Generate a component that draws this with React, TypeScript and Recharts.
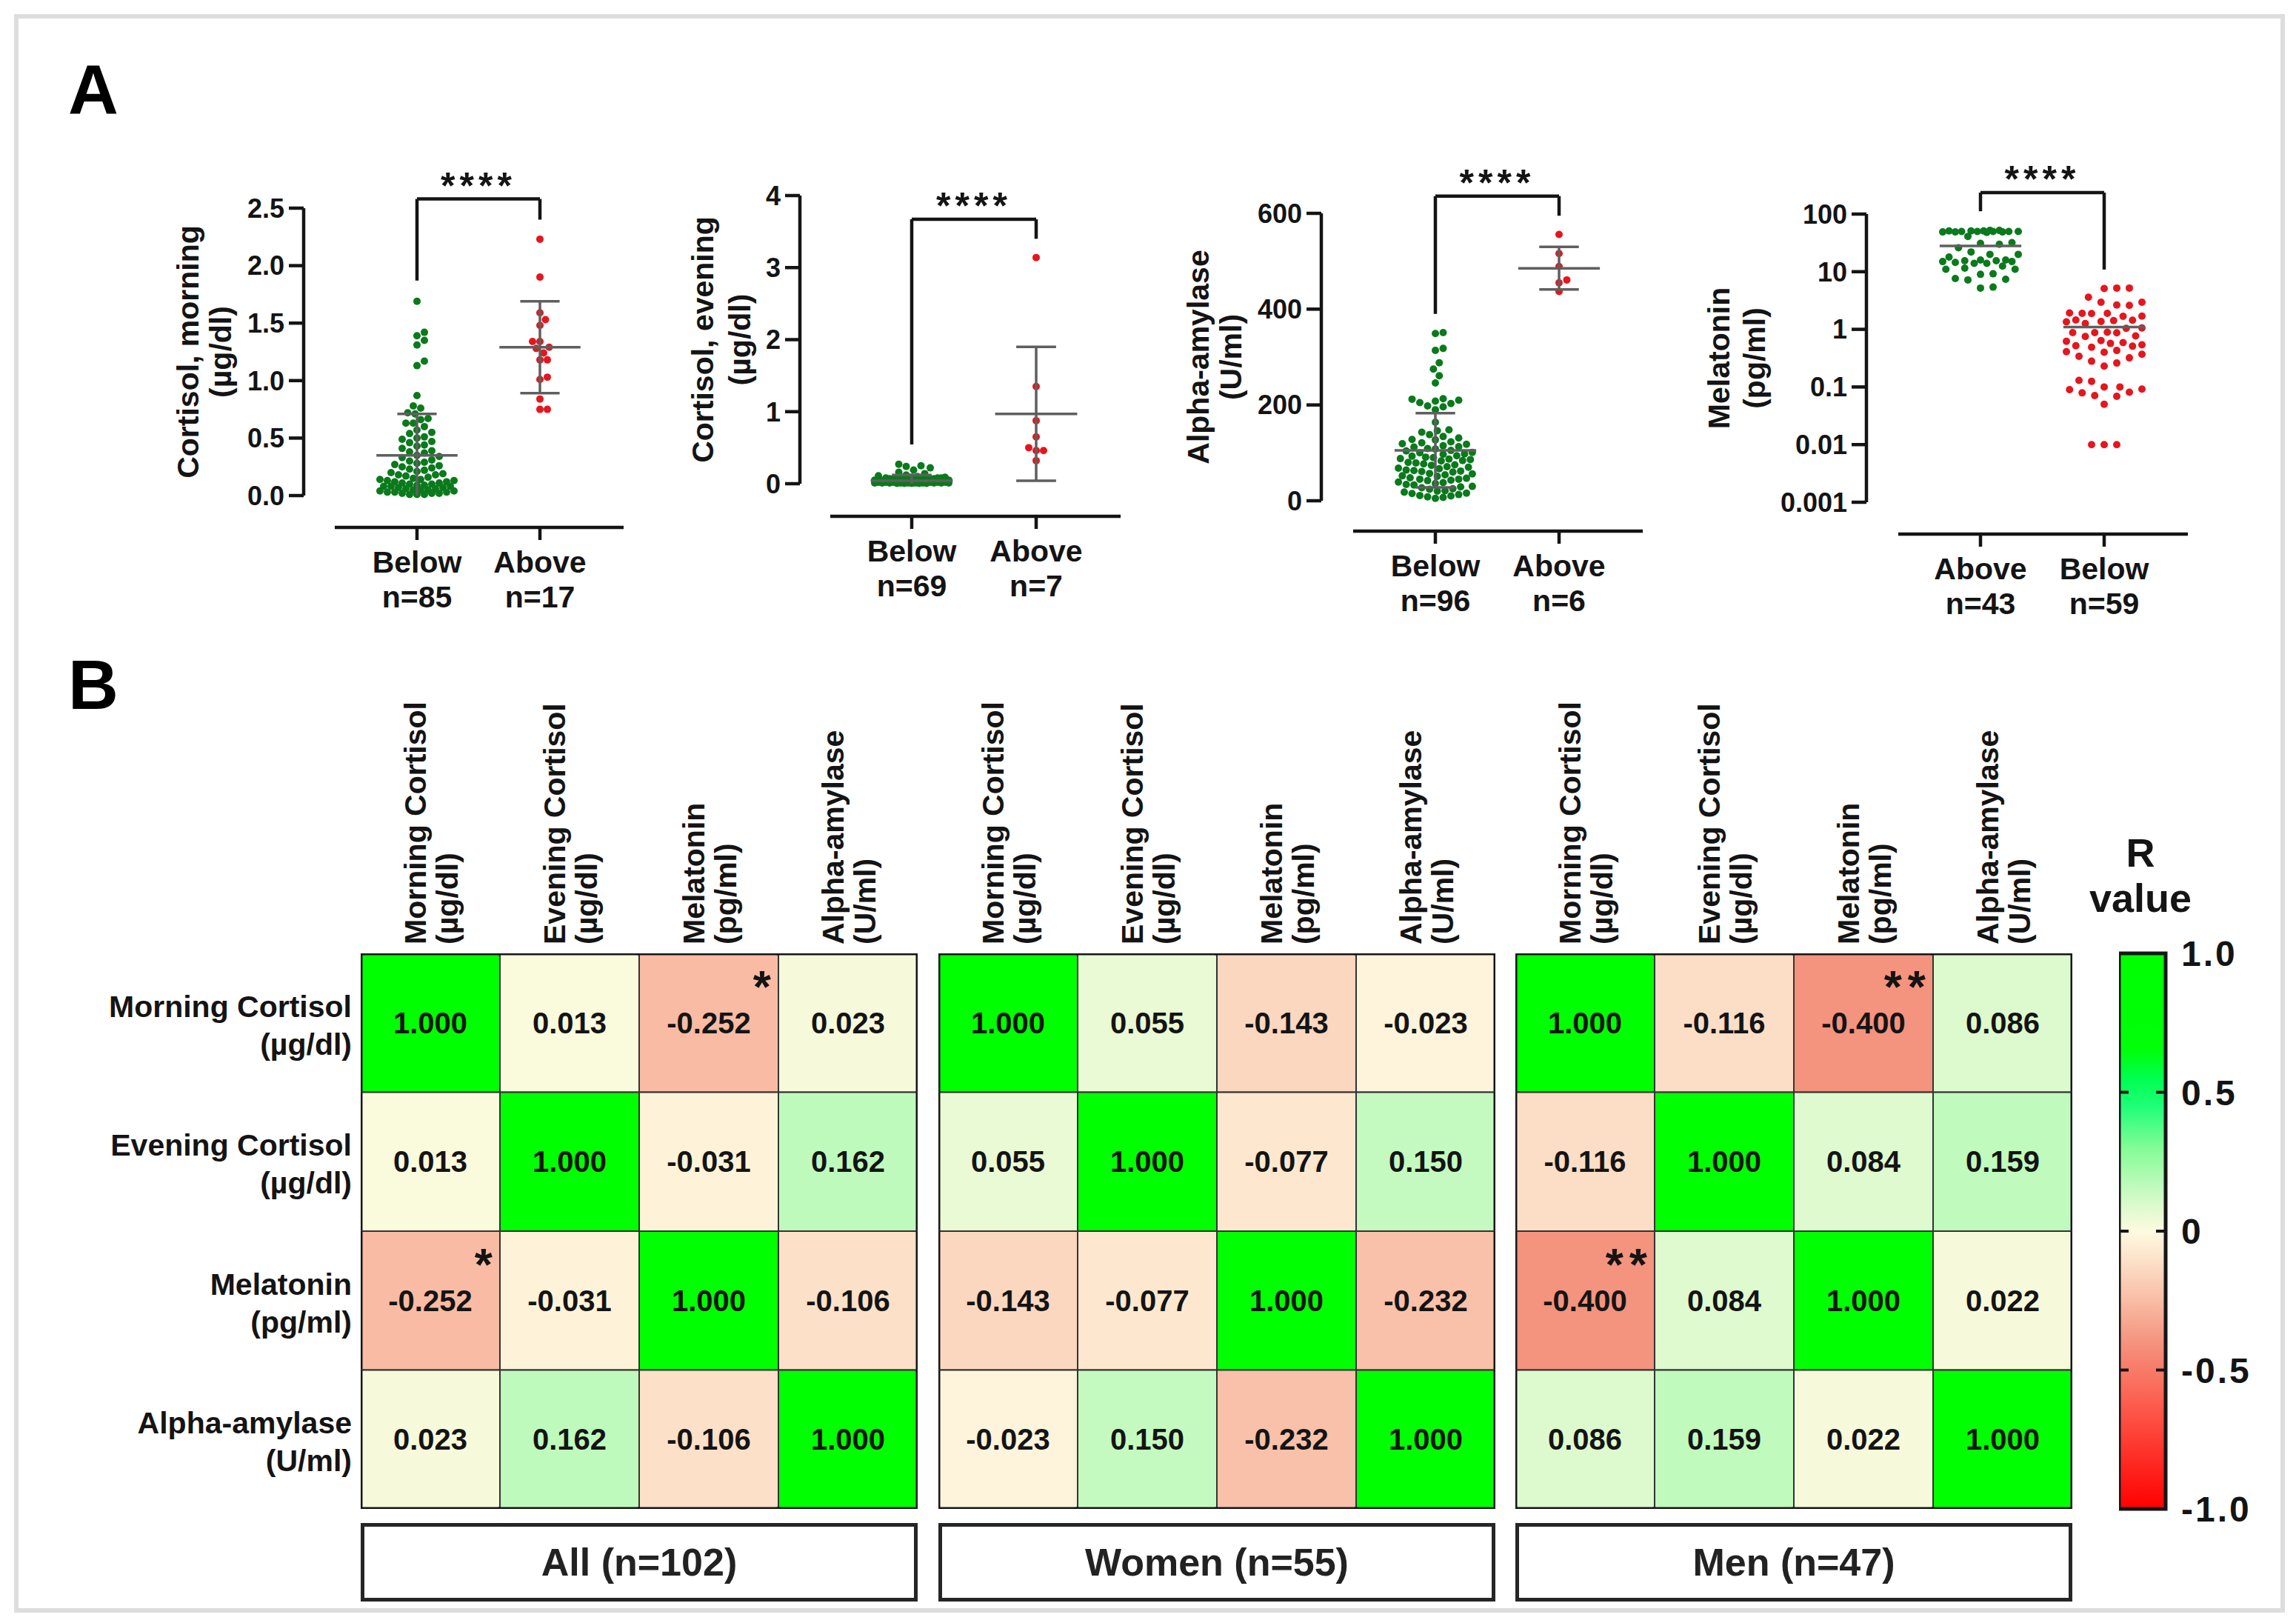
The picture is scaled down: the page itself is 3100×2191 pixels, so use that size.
import React from 'react';
import { ScatterChart, Scatter, XAxis, YAxis, ReferenceLine, BarChart, Bar } from 'recharts';

const FONT = 'Arial, "Liberation Sans", Helvetica, sans-serif';
const INK = '#141414';
const GROUP_COLORS = ['#0a7a1c', '#e5161d'];
const BAR_GREY = '#5f5f5f';

// ---------- Panel A: hormone levels
const morningGroups = ['Below', 'Above'];
const morningN = [85, 17];
const morningBelow = [
  1.69, 1.42, 1.39, 1.35, 1.31, 1.17, 1.13, 0.87, 0.78, 0.76,
  0.72, 0.71, 0.67, 0.66, 0.63, 0.63, 0.6,
  0.57, 0.55, 0.54, 0.51, 0.5, 0.49, 0.47, 0.46,
  0.44, 0.43, 0.41, 0.39, 0.38, 0.37, 0.35, 0.34, 0.33, 0.31, 0.3,
  0.29, 0.28, 0.27, 0.26, 0.25, 0.24, 0.23, 0.22, 0.21, 0.2, 0.19, 0.18, 0.18, 0.17, 0.16, 0.15,
  0.14, 0.14, 0.13, 0.13, 0.12, 0.12, 0.11, 0.11, 0.1, 0.1, 0.09, 0.09, 0.08, 0.08, 0.08,
  0.07, 0.07, 0.06, 0.06, 0.05, 0.05, 0.05, 0.04, 0.04, 0.03, 0.03, 0.03, 0.02, 0.02, 0.02,
  0.01, 0.01, 0.01,
];
const morningAbove = [2.23, 1.9, 1.59, 1.53, 1.48, 1.34, 1.34, 1.29, 1.28, 1.24, 1.18, 1.18, 1.03, 1.01, 0.84, 0.75, 0.75];
const morningMean = [0.35, 1.29];
const morningLo = [null, 0.89];
const morningHi = [0.71, 1.69];
const morningTicks = [0, 0.5, 1, 1.5, 2, 2.5];
const morningBracket = [2.58, 1.87, 2.4];

const eveningGroups = ['Below', 'Above'];
const eveningN = [69, 7];
const eveningBelow = [
  0.27, 0.25, 0.24, 0.22, 0.19, 0.16, 0.14, 0.12, 0.11, 0.1,
  0.09, 0.09, 0.08, 0.08, 0.08, 0.07, 0.07, 0.07, 0.07, 0.06, 0.06, 0.06, 0.06, 0.06,
  0.05, 0.05, 0.05, 0.05, 0.05, 0.05, 0.04, 0.04, 0.04, 0.04, 0.04, 0.04, 0.04,
  0.03, 0.03, 0.03, 0.03, 0.03, 0.03, 0.03, 0.03, 0.02, 0.02, 0.02, 0.02, 0.02, 0.02, 0.02, 0.02, 0.02,
  0.01, 0.01, 0.01, 0.01, 0.01, 0.01, 0.01, 0.01, 0.01, 0.01, 0.005, 0.005, 0.005, 0.005, 0.005,
];
const eveningAbove = [3.14, 1.35, 0.875, 0.65, 0.5, 0.46, 0.46, 0.32];
const eveningMean = [0.04, 0.97];
const eveningLo = [null, 0.04];
const eveningHi = [0.12, 1.9];
const eveningTicks = [0, 1, 2, 3, 4];
const eveningBracket = [3.67, 0.545, 3.4];

const amylaseGroups = ['Below', 'Above'];
const amylaseN = [96, 6];
const amylaseBelow = [
  351, 349, 318, 314, 288, 275, 261, 246, 213, 212, 210, 208, 205, 203, 198, 196, 190, 164, 148, 146,
  143, 138, 134, 131, 128, 127, 123, 121, 119, 118,
  115, 113, 112, 109, 108, 105, 104, 101, 100, 98,
  97, 94, 93, 91, 90, 87, 86, 84, 83, 80,
  79, 77, 75, 74, 71, 70, 68, 67, 64, 63,
  61, 60, 57, 56, 54, 52, 51, 48, 47, 45,
  43, 42, 39, 38, 36, 34, 33, 30, 29, 27,
  25, 24, 21, 20, 18, 16, 15, 13, 11, 10,
  8, 7, 5, 62, 88, 45,
];
const amylaseAbove = [556, 516, 489, 461, 455, 437];
const amylaseMean = [105, 485];
const amylaseLo = [28, 441];
const amylaseHi = [183, 530];
const amylaseTicks = [0, 200, 400, 600];
const amylaseBracket = [636, 390, 595];

const melatoninGroups = ['Above', 'Below'];
const melatoninN = [43, 59];
const melatoninAbove = [
  52, 52, 51, 51, 51, 50, 50, 50, 50, 50, 49, 49, 49, 48,
  41, 32, 31, 30, 26, 22, 20, 20, 18, 16, 16, 15.5, 15.5, 15, 15, 14.5, 14, 14,
  12.5, 11.5, 11, 11, 9.2, 9, 7.6, 7.4, 7.2, 5.4, 5.2,
];
const melatoninBelow = [
  5.2, 5.2, 5.1, 3.6, 2.95, 2.95, 2.65, 2.6, 1.92, 1.9, 1.9, 1.88, 1.7, 1.68,
  1.45, 1.44, 1.42, 1.37, 1.35, 1.26, 1.06, 1.04, 0.89, 0.88, 0.88, 0.87, 0.77, 0.75,
  0.64, 0.62, 0.59, 0.57, 0.54, 0.52, 0.51, 0.49, 0.43, 0.41, 0.4, 0.37, 0.34, 0.32,
  0.28, 0.26, 0.23, 0.13, 0.125, 0.1, 0.1, 0.092, 0.09, 0.081, 0.079, 0.071, 0.069, 0.05,
  0.01, 0.01, 0.01,
];
const melatoninMean = [28, 1.1];
const melatoninLo = [null, null];
const melatoninHi = [null, null];
const melatoninTicks = [0.001, 0.01, 0.1, 1, 10, 100];
const melatoninBracket = [236, 112, 10.9];

// ---------- Panel B: Spearman R matrices
const hormoneNames = ['Morning Cortisol', 'Evening Cortisol', 'Melatonin', 'Alpha-amylase'];
const hormoneUnits = ['(µg/dl)', '(µg/dl)', '(pg/ml)', '(U/ml)'];
const cohortNames = ['All (n=102)', 'Women (n=55)', 'Men (n=47)'];
const rAll = [
  [1.0, 0.013, -0.252, 0.023],
  [0.013, 1.0, -0.031, 0.162],
  [-0.252, -0.031, 1.0, -0.106],
  [0.023, 0.162, -0.106, 1.0],
];
const rWomen = [
  [1.0, 0.055, -0.143, -0.023],
  [0.055, 1.0, -0.077, 0.15],
  [-0.143, -0.077, 1.0, -0.232],
  [-0.023, 0.15, -0.232, 1.0],
];
const rMen = [
  [1.0, -0.116, -0.4, 0.086],
  [-0.116, 1.0, 0.084, 0.159],
  [-0.4, 0.084, 1.0, 0.022],
  [0.086, 0.159, 0.022, 1.0],
];
const sigAll = [['', '', '*', ''], ['', '', '', ''], ['*', '', '', ''], ['', '', '', '']];
const sigWomen = [['', '', '', ''], ['', '', '', ''], ['', '', '', ''], ['', '', '', '']];
const sigMen = [['', '', '**', ''], ['', '', '', ''], ['**', '', '', ''], ['', '', '', '']];
const rTicks = [-1, -0.5, 0, 0.5, 1];

// colour scale of the heatmap (style)
const R_STOPS: [number, number[]][] = [
  [-1, [255, 0, 0]],
  [-0.6, [252, 98, 82]],
  [-0.4, [244, 147, 126]],
  [-0.25, [249, 188, 164]],
  [-0.1, [252, 226, 202]],
  [0, [255, 250, 224]],
  [0.15, [196, 250, 192]],
  [0.3, [130, 252, 150]],
  [0.45, [30, 255, 120]],
  [0.55, [0, 255, 80]],
  [0.65, [0, 255, 10]],
  [1, [0, 255, 0]],
];

function rColor(r: number) {
  for (let i = 1; i < R_STOPS.length; i++) {
    const [r0, c0] = R_STOPS[i - 1];
    const [r1, c1] = R_STOPS[i];
    if (r <= r1) {
      const t = (r - r0) / (r1 - r0);
      return `rgb(${c0.map((c, k) => Math.round(c + (c1[k] - c) * t)).join(',')})`;
    }
  }
  return 'rgb(0,255,0)';
}

// ---------- layout of the four dot plots
interface DotPanel {
  groups: string[];
  ns: number[];
  values: number[][];
  mean: number[];
  lo: (number | null)[];
  hi: (number | null)[];
  ticks: number[];
  fmt: (v: number) => string;
  title: string[];
  bracket: number[];
  log: boolean;
  swarmGap: number;
  axisX: number;
  highPx: number;
  lowPx: number;
  xLineY: number;
  xLineStart: number;
  xLineEnd: number;
  tick0: number;
  tick1: number;
  titleX: number[];
}

const panels: DotPanel[] = [
  {
    groups: morningGroups, ns: morningN, values: [morningBelow, morningAbove], mean: morningMean, lo: morningLo, hi: morningHi,
    ticks: morningTicks, fmt: (v) => v.toFixed(1), title: ['Cortisol, morning', '(µg/dl)'], bracket: morningBracket, log: false,
    swarmGap: 10, axisX: 410, highPx: 281, lowPx: 669, xLineY: 712, xLineStart: 452, xLineEnd: 842, tick0: 563, tick1: 729, titleX: [268, 312],
  },
  {
    groups: eveningGroups, ns: eveningN, values: [eveningBelow, eveningAbove], mean: eveningMean, lo: eveningLo, hi: eveningHi,
    ticks: eveningTicks, fmt: (v) => String(v), title: ['Cortisol, evening', '(µg/dl)'], bracket: eveningBracket, log: false,
    swarmGap: 10, axisX: 1080, highPx: 264, lowPx: 653, xLineY: 697, xLineStart: 1121, xLineEnd: 1513, tick0: 1231, tick1: 1399, titleX: [963, 1013],
  },
  {
    groups: amylaseGroups, ns: amylaseN, values: [amylaseBelow, amylaseAbove], mean: amylaseMean, lo: amylaseLo, hi: amylaseHi,
    ticks: amylaseTicks, fmt: (v) => String(v), title: ['Alpha-amylase', '(U/ml)'], bracket: amylaseBracket, log: false,
    swarmGap: 10.5, axisX: 1784, highPx: 288, lowPx: 676, xLineY: 717, xLineStart: 1827, xLineEnd: 2218, tick0: 1938, tick1: 2105, titleX: [1632, 1676],
  },
  {
    groups: melatoninGroups, ns: melatoninN, values: [melatoninAbove, melatoninBelow], mean: melatoninMean, lo: melatoninLo, hi: melatoninHi,
    ticks: melatoninTicks, fmt: (v) => String(v), title: ['Melatonin', '(pg/ml)'], bracket: melatoninBracket, log: true,
    swarmGap: 17, axisX: 2520, highPx: 289, lowPx: 678, xLineY: 721, xLineStart: 2563, xLineEnd: 2954, tick0: 2674, tick1: 2841, titleX: [2335, 2383],
  },
];

const CH_TOP = 150;
const CH_BOTTOM = 880;
const Y_AXIS_W = 250;
const DOT_R = 5;
const SWARM_HALF = 51;

function valueToPx(p: DotPanel, v: number) {
  const lo = p.ticks[0];
  const hi = p.ticks[p.ticks.length - 1];
  const f = p.log
    ? (Math.log10(v) - Math.log10(lo)) / (Math.log10(hi) - Math.log10(lo))
    : (v - lo) / (hi - lo);
  return p.lowPx - f * (p.lowPx - p.highPx);
}

function yDomain(p: DotPanel): [number, number] {
  const lo = p.ticks[0];
  const hi = p.ticks[p.ticks.length - 1];
  const extra = (p.xLineY - p.lowPx) / (p.lowPx - p.highPx);
  if (p.log) {
    const a = Math.log10(lo);
    const b = Math.log10(hi);
    return [10 ** (a - extra * (b - a)), hi];
  }
  return [lo - extra * (hi - lo), hi];
}

// beeswarm: horizontal pixel offsets so dots don't overlap (Prism style)
function swarmOffsets(py: number[], d: number, maxHalf: number) {
  const order = py.map((_, i) => i).sort((a, b) => py[b] - py[a]);
  const step = d / 4;
  const cands = [0];
  for (let s = step; s <= maxHalf + 0.01; s += step) cands.push(s, -s);
  const placed: { x: number; y: number }[] = [];
  const out = new Array(py.length).fill(0);
  for (const i of order) {
    let chosen = 0;
    let best = -1;
    for (const c of cands) {
      let m = Infinity;
      for (const q of placed) {
        const dy = q.y - py[i];
        if (Math.abs(dy) >= d) continue;
        const dd = Math.hypot(q.x - c, dy);
        if (dd < m) m = dd;
      }
      if (m >= d) {
        chosen = c;
        break;
      }
      if (m > best) {
        best = m;
        chosen = c;
      }
    }
    placed.push({ x: chosen, y: py[i] });
    out[i] = chosen;
  }
  return out;
}

function buildPoints(p: DotPanel) {
  const pts: { x: number; y: number; dx: number; g: number }[] = [];
  p.values.forEach((vals, g) => {
    const dxs = swarmOffsets(vals.map((v) => valueToPx(p, v)), p.swarmGap, SWARM_HALF);
    vals.forEach((v, i) => pts.push({ x: g, y: v, dx: dxs[i], g }));
  });
  return pts;
}

const Dot = (props: any) => {
  const { cx, cy, payload } = props;
  if (cx == null || cy == null) return null;
  return <circle cx={cx + payload.dx} cy={cy} r={DOT_R} fill={GROUP_COLORS[payload.g]} />;
};

const YTitle = ({ lines, tx, ty }: { lines: string[]; tx: number[]; ty: number }) => (
  <g>
    {lines.map((t, i) => (
      <text key={i} transform={`translate(${tx[i]},${ty}) rotate(-90)`} textAnchor="middle"
        fontFamily={FONT} fontSize={41} fontWeight={700} fill={INK}>
        {t}
      </text>
    ))}
  </g>
);

function DotPlot({ p }: { p: DotPanel }) {
  const left = p.axisX - Y_AXIS_W;
  const width = Y_AXIS_W + (p.xLineEnd - p.axisX) + 30;
  const height = CH_BOTTOM - CH_TOP;
  const gap = p.tick1 - p.tick0;
  const xMin = (p.axisX - p.tick0) / gap;
  const xMax = (p.xLineEnd - p.tick0) / gap;
  const xStart = (p.xLineStart - p.tick0) / gap;
  const [yMin, yMax] = yDomain(p);
  const pts = buildPoints(p);
  const lineLocal = p.xLineY - CH_TOP;
  const meanHalf = 0.33;
  const capHalf = 0.16;
  const line = { stroke: INK, strokeWidth: 4.5, ifOverflow: 'visible' as const, zIndex: 700 };
  const grey = { stroke: BAR_GREY, strokeWidth: 3.5, ifOverflow: 'visible' as const, zIndex: 700 };

  const CatTick = (tp: any) => {
    const g = tp.payload.value;
    return (
      <g>
        <text x={tp.x} y={lineLocal + 61} textAnchor="middle" fontFamily={FONT} fontSize={41} fontWeight={700} fill={INK}>
          {p.groups[g]}
        </text>
        <text x={tp.x} y={lineLocal + 108} textAnchor="middle" fontFamily={FONT} fontSize={41} fontWeight={700} fill={INK}>
          {`n=${p.ns[g]}`}
        </text>
      </g>
    );
  };

  return (
    <div style={{ position: 'absolute', left, top: CH_TOP }}>
      <ScatterChart width={width} height={height} margin={{ top: p.highPx - CH_TOP, right: 30, bottom: 0, left: 0 }}>
        <XAxis type="number" dataKey="x" domain={[xMin, xMax]} ticks={[0, 1]} allowDataOverflow interval={0}
          axisLine={false} tickLine={{ stroke: INK, strokeWidth: 4.5 }} tickSize={17}
          height={CH_BOTTOM - p.xLineY} tick={CatTick} />
        <YAxis type="number" dataKey="y" scale={p.log ? 'log' : 'linear'} domain={[yMin, yMax]} ticks={p.ticks}
          allowDataOverflow interval={0} width={Y_AXIS_W} axisLine={false}
          tickLine={{ stroke: INK, strokeWidth: 4.5 }} tickSize={20} tickMargin={6} tickFormatter={p.fmt}
          tick={{ fontFamily: FONT, fontSize: 36, fontWeight: 700, fill: INK }}
          label={<YTitle lines={p.title} tx={p.titleX.map((v) => v - left)} ty={(p.highPx + p.lowPx) / 2 - CH_TOP} />} />
        <Scatter data={pts} shape={Dot} isAnimationActive={false} />
        {/* axis lines, Prism style: detached x axis */}
        <ReferenceLine segment={[{ x: xMin, y: p.ticks[0] }, { x: xMin, y: yMax }]} {...line} />
        <ReferenceLine segment={[{ x: xStart, y: yMin }, { x: xMax, y: yMin }]} {...line} />
        {/* mean and SD */}
        {p.mean.map((m, g) => (
          <ReferenceLine key={`m${g}`} segment={[{ x: g - meanHalf, y: m }, { x: g + meanHalf, y: m }]} {...grey} />
        ))}
        {p.hi.map((h, g) =>
          h == null ? null : (
            <ReferenceLine key={`v${g}`} segment={[{ x: g, y: p.lo[g] ?? p.ticks[0] }, { x: g, y: h }]} {...grey} />
          ),
        )}
        {p.hi.map((h, g) =>
          h == null ? null : (
            <ReferenceLine key={`h${g}`} segment={[{ x: g - capHalf, y: h }, { x: g + capHalf, y: h }]} {...grey} />
          ),
        )}
        {p.lo.map((l, g) =>
          l == null ? null : (
            <ReferenceLine key={`l${g}`} segment={[{ x: g - capHalf, y: l }, { x: g + capHalf, y: l }]} {...grey} />
          ),
        )}
        {/* significance bracket */}
        <ReferenceLine segment={[{ x: 0, y: p.bracket[0] }, { x: 1, y: p.bracket[0] }]} {...line}
          label={{ value: '****', position: 'top', offset: 1, fontFamily: FONT, fontSize: 50, fontWeight: 700, fill: INK, letterSpacing: 6 }} />
        <ReferenceLine segment={[{ x: 0, y: p.bracket[0] }, { x: 0, y: p.bracket[1] }]} {...line} />
        <ReferenceLine segment={[{ x: 1, y: p.bracket[0] }, { x: 1, y: p.bracket[2] }]} {...line} />
      </ScatterChart>
    </div>
  );
}

// ---------- heatmaps
const MATRIX_X = [487, 1267, 2046];
const MATRIX_TOP = 1287;
const MATRIX_W = 752;
const MATRIX_H = 750;
const CELL_W = MATRIX_W / 4;
const CELL_H = MATRIX_H / 4;
const HM_TOP = 900;
const ROW_LABEL_W = 470;

const cohorts = [
  { r: rAll, sig: sigAll },
  { r: rWomen, sig: sigWomen },
  { r: rMen, sig: sigMen },
];

const Cell = (props: any) => {
  const { cx, cy, payload } = props;
  if (cx == null || cy == null) return null;
  const x = cx - CELL_W / 2;
  const y = cy - CELL_H / 2;
  const edge = { stroke: '#161616', strokeWidth: 5 };
  return (
    <g>
      <rect x={x} y={y} width={CELL_W} height={CELL_H} fill={rColor(payload.r)} stroke="#333" strokeWidth={2} />
      {payload.row === 0 && <line x1={x - 2.5} x2={x + CELL_W + 2.5} y1={y} y2={y} {...edge} />}
      {payload.row === 3 && <line x1={x - 2.5} x2={x + CELL_W + 2.5} y1={y + CELL_H} y2={y + CELL_H} {...edge} />}
      {payload.col === 0 && <line x1={x} x2={x} y1={y} y2={y + CELL_H} {...edge} />}
      {payload.col === 3 && <line x1={x + CELL_W} x2={x + CELL_W} y1={y} y2={y + CELL_H} {...edge} />}
      <text x={cx} y={cy + 14} textAnchor="middle" fontFamily={FONT} fontSize={40} fontWeight={700} fill={INK}>
        {payload.r.toFixed(3)}
      </text>
      {payload.sig && (
        <text x={x + CELL_W - 2} y={y + 66} textAnchor="end" fontFamily={FONT} fontSize={62} fontWeight={700}
          fill={INK} letterSpacing={8}>
          {payload.sig}
        </text>
      )}
    </g>
  );
};

const HeaderTick = (tp: any) => {
  const i = tp.payload.value;
  const base = MATRIX_TOP - HM_TOP - 12;
  return (
    <g fontFamily={FONT} fontSize={41} fontWeight={700} fill={INK}>
      <text transform={`translate(${tp.x - 6},${base}) rotate(-90)`} textAnchor="start">{hormoneNames[i]}</text>
      <text transform={`translate(${tp.x + 37},${base}) rotate(-90)`} textAnchor="start">{hormoneUnits[i]}</text>
    </g>
  );
};

const RowTick = (tp: any) => {
  const i = tp.payload.value;
  const x = ROW_LABEL_W - 12;
  return (
    <g fontFamily={FONT} fontSize={41} fontWeight={700} fill={INK}>
      <text x={x} y={tp.y - 8} textAnchor="end">{hormoneNames[i]}</text>
      <text x={x} y={tp.y + 43} textAnchor="end">{hormoneUnits[i]}</text>
    </g>
  );
};

function Matrix({ k }: { k: number }) {
  const withRows = k === 0;
  const padL = withRows ? ROW_LABEL_W : 12;
  const cells = cohorts[k].r.flatMap((row, i) =>
    row.map((r, j) => ({ col: j, row: i, r, sig: cohorts[k].sig[i][j] })),
  );
  const headH = MATRIX_TOP - HM_TOP;
  return (
    <div style={{ position: 'absolute', left: MATRIX_X[k] - padL, top: HM_TOP }}>
      <ScatterChart width={padL + MATRIX_W + 12} height={headH + MATRIX_H + 12}
        margin={{ top: 0, right: 12, bottom: 12, left: withRows ? 0 : 12 }}>
        <XAxis type="number" dataKey="col" orientation="top" domain={[-0.5, 3.5]} ticks={[0, 1, 2, 3]} interval={0}
          allowDataOverflow height={headH} axisLine={false} tickLine={false} tick={HeaderTick} />
        <YAxis type="number" dataKey="row" domain={[-0.5, 3.5]} reversed ticks={[0, 1, 2, 3]} interval={0}
          allowDataOverflow width={ROW_LABEL_W} hide={!withRows} axisLine={false} tickLine={false} tick={RowTick} />
        <Scatter data={cells} shape={Cell} isAnimationActive={false} />
      </ScatterChart>
    </div>
  );
}

// ---------- colour bar
const rBarData = [{ name: 'R', span: [rTicks[0], rTicks[rTicks.length - 1]] }];
const CB_PAD = 40;

const ColorBarShape = (props: any) => {
  const { x, y, width, height } = props;
  const inner = rTicks.slice(1, -1);
  return (
    <g>
      <rect x={x} y={y} width={width} height={height} fill="url(#rgrad)" stroke="#161616" strokeWidth={5} />
      {inner.map((t) => {
        const ty = y + ((1 - t) / 2) * height;
        return (
          <g key={t} stroke="#161616" strokeWidth={4}>
            <line x1={x} x2={x + 13} y1={ty} y2={ty} />
            <line x1={x + width - 13} x2={x + width} y1={ty} y2={ty} />
          </g>
        );
      })}
    </g>
  );
};

function ColorBar() {
  return (
    <div style={{ position: 'absolute', left: 2861, top: MATRIX_TOP - CB_PAD }}>
      <BarChart width={63 + 190} height={CB_PAD * 2 + MATRIX_H} data={rBarData} barCategoryGap={0}
        margin={{ top: CB_PAD, right: 0, bottom: CB_PAD, left: 0 }}>
        <defs>
          <linearGradient id="rgrad" x1="0" y1="0" x2="0" y2="1">
            {[...R_STOPS].reverse().map(([r]) => (
              <stop key={r} offset={`${((1 - r) / 2) * 100}%`} stopColor={rColor(r)} />
            ))}
          </linearGradient>
        </defs>
        <XAxis dataKey="name" hide />
        <YAxis orientation="right" type="number" domain={[-1, 1]} ticks={rTicks} interval={0} width={190}
          axisLine={false} tickLine={false} tickSize={0} tickMargin={21}
          tickFormatter={(v: number) => (v === 0 ? '0' : v.toFixed(1))}
          tick={{ fontFamily: FONT, fontSize: 48, fontWeight: 700, fill: INK, letterSpacing: 3 }} />
        <Bar dataKey="span" shape={ColorBarShape} isAnimationActive={false} />
      </BarChart>
    </div>
  );
}

export default function App() {
  return (
    <div style={{ position: 'absolute', left: 0, top: 0, width: 3100, height: 2191, background: '#fff', fontFamily: FONT }}>
      <svg width={3100} height={2191} style={{ position: 'absolute', left: 0, top: 0 }}>
        <rect x={22} y={22} width={3060} height={2152} fill="none" stroke="#dddddd" strokeWidth={6} />
        <text x={92} y={154} fontFamily={FONT} fontSize={94} fontWeight={700} fill="#000">A</text>
        <text x={92} y={957} fontFamily={FONT} fontSize={94} fontWeight={700} fill="#000">B</text>
        <text x={2890} y={1170} textAnchor="middle" fontFamily={FONT} fontSize={54} fontWeight={700} fill={INK}>R</text>
        <text x={2890} y={1231} textAnchor="middle" fontFamily={FONT} fontSize={54} fontWeight={700} fill={INK}>value</text>
      </svg>
      {panels.map((p, i) => (
        <DotPlot key={i} p={p} />
      ))}
      {[0, 1, 2].map((k) => (
        <Matrix key={k} k={k} />
      ))}
      {cohortNames.map((name, k) => (
        <div key={name} style={{
          position: 'absolute', left: MATRIX_X[k], top: 2056, width: MATRIX_W, height: 106, boxSizing: 'border-box',
          border: '5px solid #262626', display: 'flex', alignItems: 'center', justifyContent: 'center',
          fontFamily: FONT, fontSize: 52, fontWeight: 700, color: '#222',
        }}>
          {name}
        </div>
      ))}
      <ColorBar />
    </div>
  );
}
